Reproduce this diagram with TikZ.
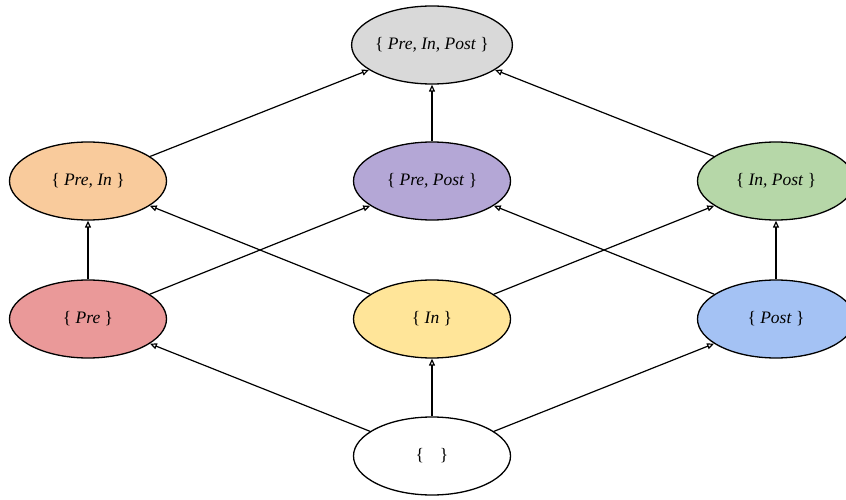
\documentclass[tikz,border=0pt]{standalone}
\usepackage{fontspec}
\setmainfont{Liberation Serif}
\usetikzlibrary{shapes.geometric,arrows.meta}
\definecolor{cTop}{HTML}{D9D9D9}
\definecolor{cPreIn}{HTML}{F9CB9C}
\definecolor{cPrePost}{HTML}{B4A7D6}
\definecolor{cInPost}{HTML}{B6D7A8}
\definecolor{cPre}{HTML}{EA9999}
\definecolor{cIn}{HTML}{FFE599}
\definecolor{cPost}{HTML}{A4C2F4}
\begin{document}
\begin{tikzpicture}[x=1pt,y=1pt,-{Triangle[open,length=7pt,width=6pt]},line width=1.2pt]
  \tikzstyle{set}=[ellipse,draw,line width=1.3pt,minimum width=157pt,minimum height=78pt,inner sep=0pt,font=\fontsize{17.5}{19}\selectfont]
  \useasboundingbox (0,0) rectangle (846,499);
  \node[set,fill=cTop]     (S_PIP) at (432,454) {\{ \textit{Pre, In, Post} \}};
  \node[set,fill=cPreIn]   (S_PI)  at (88,318)  {\{ \textit{Pre, In} \}};
  \node[set,fill=cPrePost] (S_PP)  at (432,318) {\{ \textit{Pre, Post} \}};
  \node[set,fill=cInPost]  (S_IP)  at (776,318) {\{ \textit{In, Post} \}};
  \node[set,fill=cPre]     (S_P)   at (88,180)  {\{ \textit{Pre} \}};
  \node[set,fill=cIn]      (S_I)   at (432,180) {\{ \textit{In} \}};
  \node[set,fill=cPost]    (S_O)   at (776,180) {\{ \textit{Post} \}};
  \node[set,fill=white]    (S_E)   at (432,43)  {\{\hspace{0.9em}\}};
  \path (S_E) edge (S_P)  (S_E) edge (S_I)  (S_E) edge (S_O)
        (S_P) edge (S_PI) (S_P) edge (S_PP)
        (S_I) edge (S_PI) (S_I) edge (S_IP)
        (S_O) edge (S_PP) (S_O) edge (S_IP)
        (S_PI) edge (S_PIP) (S_PP) edge (S_PIP) (S_IP) edge (S_PIP);
\end{tikzpicture}
\end{document}
